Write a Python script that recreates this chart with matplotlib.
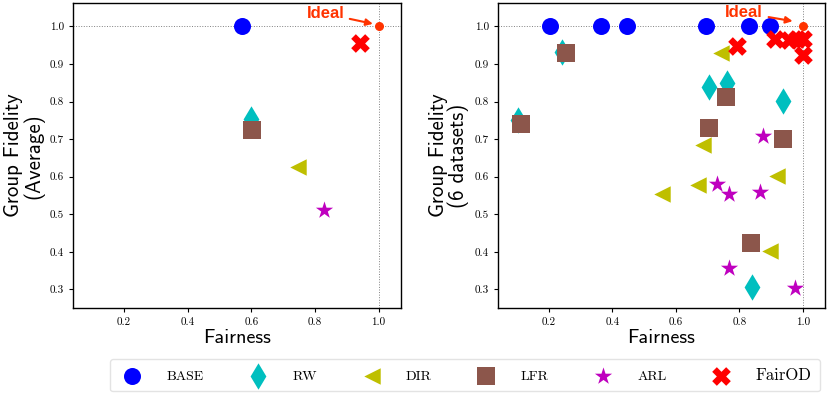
import numpy as np
import matplotlib
import matplotlib.pyplot as plt

matplotlib.use("Agg")

METHODS = ["BASE", "RW", "DIR", "LFR", "ARL", "FairOD"]
MARKERS = {"BASE": "o", "RW": "d", "DIR": "<", "LFR": "s", "ARL": "*", "FairOD": "X"}
COLORS = {"BASE": "b", "RW": "c", "DIR": "y", "LFR": "#8c564b", "ARL": "m", "FairOD": "r"}
SIZES = {"BASE": 150, "RW": 180, "DIR": 140, "LFR": 160, "ARL": 170, "FairOD": 180}

# Average over datasets (left panel)
avg_fairness = [0.572, 0.598, 0.746, 0.601, 0.829, 0.940]
avg_fidelity = [1.000, 0.754, 0.625, 0.723, 0.510, 0.956]

# Per-dataset results (right panel)
fair_base = [0.204, 0.365, 0.446, 0.696, 0.829, 0.898]
fid_base = [1.0, 1.0, 1.0, 1.0, 1.0, 1.0]
fair_rw = [0.242, 0.102, 0.706, 0.761, 0.939, 0.839]
fid_rw = [0.931, 0.752, 0.839, 0.849, 0.802, 0.307]
fair_dir = [0.741, 0.687, 0.669, 0.556, 0.919, 0.898]
fid_dir = [0.929, 0.684, 0.577, 0.554, 0.601, 0.402]
fair_lfr = [0.255, 0.113, 0.759, 0.705, 0.939, 0.837]
fid_lfr = [0.929, 0.739, 0.811, 0.730, 0.700, 0.424]
fair_arl = [0.876, 0.730, 0.769, 0.864, 0.769, 0.974]
fid_arl = [0.708, 0.581, 0.553, 0.559, 0.358, 0.304]
fair_fairod = [0.794, 0.914, 0.958, 0.982, 1.000, 1.000]
fid_fairod = [0.949, 0.966, 0.963, 0.966, 0.966, 0.925]

per_dataset = {
    "BASE": (fair_base, fid_base),
    "RW": (fair_rw, fid_rw),
    "DIR": (fair_dir, fid_dir),
    "LFR": (fair_lfr, fid_lfr),
    "ARL": (fair_arl, fid_arl),
    "FairOD": (fair_fairod, fid_fairod),
}

IDEAL_COLOR = "#ff3300"


def StyleAxes(ax, ylabel):
    ax.set_xlim(0.04, 1.07)
    ax.set_ylim(0.25, 1.062)
    ax.set_xticks([0.2, 0.4, 0.6, 0.8, 1.0])
    ax.set_yticks([0.3, 0.4, 0.5, 0.6, 0.7, 0.8, 0.9, 1.0])
    ax.set_xticklabels(["0.2", "0.4", "0.6", "0.8", "1.0"], family="cmr10", fontsize=8)
    ax.set_yticklabels(["0.3", "0.4", "0.5", "0.6", "0.7", "0.8", "0.9", "1.0"],
                       family="cmr10", fontsize=8)
    ax.tick_params(length=3, width=0.8)
    ax.axhline(1.0, color="gray", ls=":", lw=0.7, zorder=0)
    ax.axvline(1.0, color="gray", ls=":", lw=0.7, zorder=0)
    ax.set_xlabel("Fairness", family="cmss10", fontsize=14.5, labelpad=2)
    ax.set_ylabel(ylabel, family="cmss10", fontsize=15, labelpad=4, linespacing=1.0)
    for s in ax.spines.values():
        s.set_linewidth(1.0)


def Ideal(ax, text_xy, tip):
    ax.scatter([1.0], [1.0], s=30, color=IDEAL_COLOR, zorder=5)
    ax.annotate("Ideal", xy=tip, xytext=text_xy, color=IDEAL_COLOR,
                family="Liberation Sans", fontsize=12, fontweight="bold",
                ha="right", va="center",
                arrowprops=dict(arrowstyle="-|>", color=IDEAL_COLOR, lw=1.5,
                                mutation_scale=10, shrinkA=2, shrinkB=0))


if __name__ == "__main__":
    fig = plt.figure(figsize=(8.3, 3.94), dpi=100)
    ax1 = fig.add_axes([0.088, 0.218, 0.395, 0.774])
    ax2 = fig.add_axes([0.600, 0.218, 0.394, 0.774])

    for i, m in enumerate(METHODS):
        ax1.scatter(avg_fairness[i], avg_fidelity[i], marker=MARKERS[m], s=SIZES[m],
                    color=COLORS[m], linewidths=0, label=m, zorder=3)
    for m in METHODS:
        xs, ys = per_dataset[m]
        ax2.scatter(xs, ys, marker=MARKERS[m], s=SIZES[m], color=COLORS[m],
                    linewidths=0, zorder=3)

    StyleAxes(ax1, "Group Fidelity\n(Average)")
    StyleAxes(ax2, "Group Fidelity\n(6 datasets)")
    Ideal(ax1, (0.892, 1.034), (0.982, 1.007))
    Ideal(ax2, (0.875, 1.036), (0.968, 1.014))

    leg = fig.legend(*ax1.get_legend_handles_labels(), loc="center",
                     bbox_to_anchor=(0.56, 0.047), ncol=6, frameon=True,
                     prop={"family": "cmr10", "size": 10}, handletextpad=1.45,
                     columnspacing=2.95, borderpad=0.6, fancybox=True)
    leg.get_frame().set_edgecolor("#dddddd")
    leg.get_frame().set_linewidth(1.0)
    leg.get_texts()[-1].set_fontsize(12)

    fig.savefig("out.png", dpi=100)
